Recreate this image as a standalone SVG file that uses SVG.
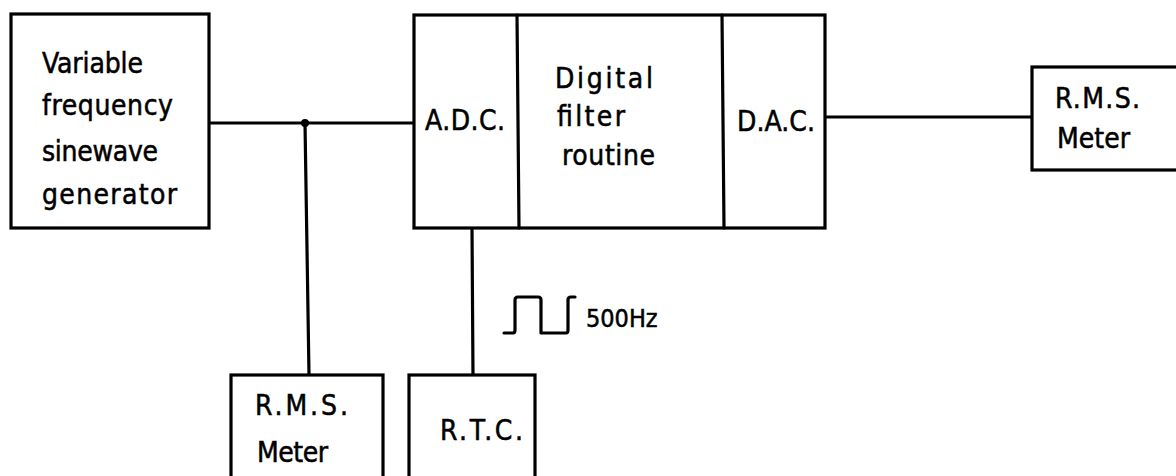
<svg xmlns="http://www.w3.org/2000/svg" width="1176" height="476" viewBox="0 0 1176 476">
<style>
.box{fill:#fff;stroke:#000;stroke-width:3.2}
.ln{fill:none;stroke:#000;stroke-width:3.2;stroke-linecap:round;stroke-linejoin:round}
text{font-family:"DejaVu Sans","Liberation Sans",sans-serif;font-stretch:condensed;font-size:28px;fill:#000;stroke:#000;stroke-width:0.5}
</style>
<rect width="1176" height="476" fill="#fff"/>
<g id="connectors">
<line class="ln" x1="209" y1="123" x2="414" y2="123"/>
<circle cx="305" cy="123" r="4" fill="#000"/>
<line class="ln" x1="305" y1="123" x2="309" y2="375"/>
<line class="ln" x1="472" y1="228" x2="473" y2="375"/>
<line class="ln" x1="825" y1="117" x2="1032" y2="117"/>
</g>
<g id="generator">
<rect class="box" x="11" y="14" width="198" height="214"/>
<text x="42" y="73" textLength="101" lengthAdjust="spacing">Variable</text>
<text x="42" y="115" textLength="131" lengthAdjust="spacing">frequency</text>
<text x="42" y="161" textLength="116" lengthAdjust="spacing">sinewave</text>
<text x="42" y="204" textLength="135" lengthAdjust="spacing">generator</text>
</g>
<g id="processor">
<rect class="box" x="414" y="15" width="411" height="213"/>
<line class="ln" x1="517" y1="15" x2="519" y2="228"/>
<line class="ln" x1="722" y1="15" x2="724" y2="228"/>
<text x="425" y="130" textLength="80" lengthAdjust="spacing">A.D.C.</text>
<text x="555" y="88" textLength="98" lengthAdjust="spacing">Digital</text>
<text x="557" y="126" textLength="68" lengthAdjust="spacing">filter</text>
<text x="562" y="165" textLength="93" lengthAdjust="spacing">routine</text>
<text x="737" y="131" textLength="78" lengthAdjust="spacing">D.A.C.</text>
</g>
<g id="rms-out">
<rect class="box" x="1032" y="67" width="150" height="103"/>
<text x="1055" y="108" textLength="85" lengthAdjust="spacing">R.M.S.</text>
<text x="1057" y="148" textLength="73" lengthAdjust="spacing">Meter</text>
</g>
<g id="rms-in">
<rect class="box" x="231" y="375" width="152" height="110"/>
<text x="255" y="415" textLength="93" lengthAdjust="spacing">R.M.S.</text>
<text x="257" y="462" textLength="71" lengthAdjust="spacing">Meter</text>
</g>
<g id="rtc">
<rect class="box" x="409" y="375" width="126" height="110"/>
<text x="440" y="440" textLength="83" lengthAdjust="spacing">R.T.C.</text>
</g>
<g id="clock-label">
<path class="ln" d="M504 333 H513 Q515 333 515 330 V300 Q515 297 518 297 H538 Q541 297 541 300 V333 H566 Q568 333 568 330 V300 Q568 297 571 297 H575"/>
<text x="586" y="327" style="font-size:25px">500Hz</text>
</g>
</svg>
